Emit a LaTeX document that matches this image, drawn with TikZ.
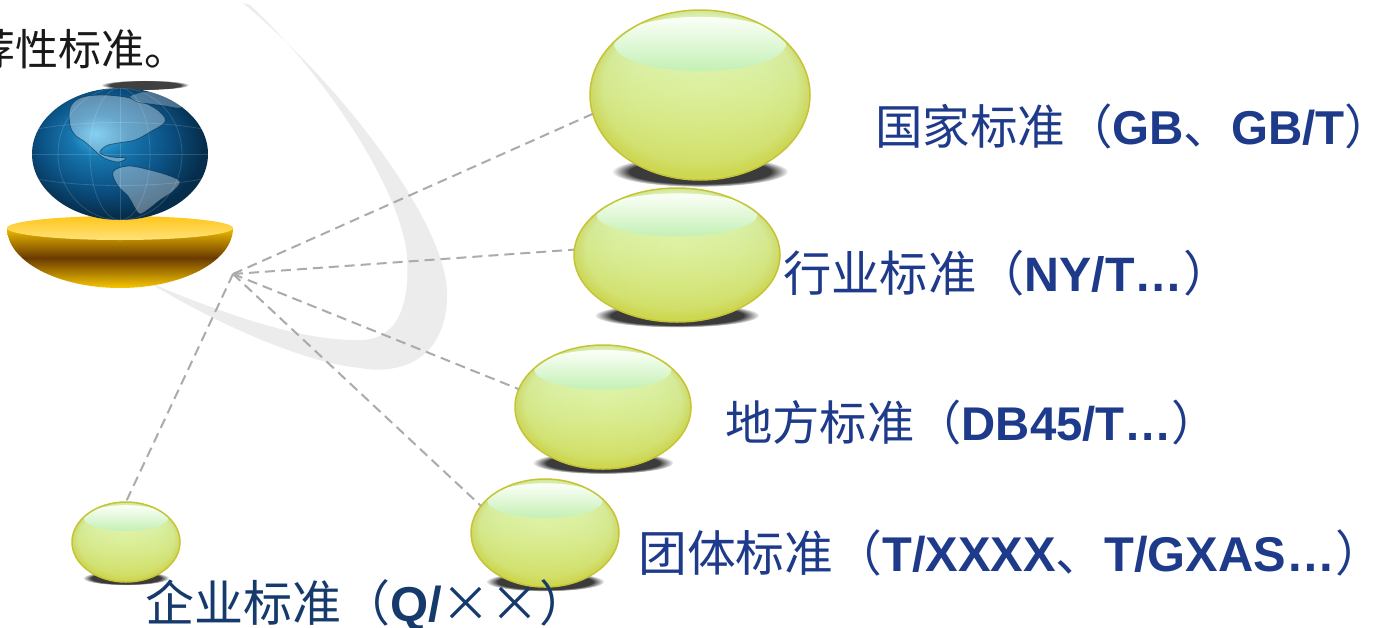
\documentclass[tikz,border=0pt]{standalone}
\usepackage{fontspec}
\setmainfont{Liberation Sans}
\newfontfamily\cjk{Noto Sans CJK SC}
\usetikzlibrary{fadings,shapes.geometric}

\definecolor{lab}{HTML}{1E3A8A}
\definecolor{labdark}{HTML}{163A6C}
\definecolor{dashc}{HTML}{ABABAB}
\definecolor{swc}{HTML}{ECECEC}
\definecolor{bc0}{HTML}{E4FDCE}
\definecolor{bc1}{HTML}{DEF8C2}
\definecolor{bc2}{HTML}{D8F0B0}
\definecolor{bc3}{HTML}{CDDA78}
\definecolor{byel}{HTML}{CED63E}
\definecolor{brim}{HTML}{C6C434}
\definecolor{hlw}{HTML}{FBFFF8}
\definecolor{hlg}{HTML}{C4F0B4}
\definecolor{g0}{HTML}{45B8EA}
\definecolor{g1}{HTML}{1778B0}
\definecolor{g2}{HTML}{0B5285}
\definecolor{g3}{HTML}{062E4C}
\definecolor{bowlY}{HTML}{EEBE00}
\definecolor{bowlD}{HTML}{6A3A00}
\definecolor{bowlY2}{HTML}{F7C800}
\definecolor{topA}{HTML}{FFC61A}
\definecolor{topB}{HTML}{FFE27A}

\pgfdeclareradialshading{bubsh}{\pgfpoint{0bp}{3bp}}{color(0bp)=(bc0); color(15bp)=(bc1); color(22bp)=(bc2); color(25bp)=(bc3); color(50bp)=(bc3)}
\pgfdeclareradialshading{globesh}{\pgfpoint{-7bp}{8bp}}{color(0bp)=(g0); color(8bp)=(g1); color(18bp)=(g2); color(27bp)=(g3); color(50bp)=(g3)}
\tikzfading[name=botfade, top color=transparent!100, middle color=transparent!97, bottom color=transparent!30]

\newcommand\cj[1]{{\cjk #1}}
\newcommand\latn[1]{{\bfseries #1}}

\tikzset{
  bub/.style={ellipse, inner sep=0pt, shading=bubsh},
  conn/.style={draw=dashc, line width=2pt, dash pattern=on 10pt off 6pt},
  lbl/.style={anchor=west, inner sep=0pt, text=lab},
  fuzzy/.style={path fading=circle with fuzzy edge 20 percent}
}

\newcommand\bubble[5]{%
  \fill[black!85, fuzzy, opacity=.9] (#2,{-#3-0.9*#5}) ellipse [x radius={0.8*#4}, y radius={0.18*#5}];
  \node[bub, minimum width={2*#4*1pt}, minimum height={2*#5*1pt}] (#1) at (#2,-#3) {};
  \fill[byel, path fading=botfade] (#2,-#3) ellipse [x radius=#4, y radius=#5];
  \shade[top color=hlw, bottom color=hlg] (#2,{-#3+0.6*#5}) ellipse [x radius={0.78*#4}, y radius={0.32*#5}];
  \draw[brim, line width=1.5pt] (#2,-#3) ellipse [x radius=#4, y radius=#5];
}

\begin{document}
\begin{tikzpicture}[x=1pt,y=1pt]
\useasboundingbox (0,0) rectangle (1375,-627);
\clip (0,0) rectangle (1375,-627);
\fill[white] (0,0) rectangle (1375,-627);

% swoosh
\fill[swc] (243,-3) .. controls (345,-88) and (452,-230) .. (447,-300)
  .. controls (444,-360) and (400,-375) .. (360,-368)
  .. controls (300,-362) and (210,-320) .. (150,-283)
  .. controls (220,-312) and (300,-342) .. (363,-340)
  .. controls (400,-338) and (410,-300) .. (407,-255)
  .. controls (400,-190) and (330,-80) .. (250,-5) -- cycle;

% top text
\node[anchor=east, inner sep=0pt, font=\cjk\fontsize{43}{46}\selectfont, text=black!90] (tt) at (188,-49) {推荐性标准。};

% bowl
\shade[top color=bowlY, bottom color=bowlY2, middle color=bowlD] (7,-228) arc[start angle=180, end angle=360, x radius=113, y radius=60] -- cycle;
\shade[top color=topA, bottom color=topB] (120,-228) ellipse [x radius=113, y radius=12];

% globe shadow
\fill[black!75, fuzzy] (145,-85) ellipse [x radius=44, y radius=5];

% globe
\begin{scope}
\shade[shading=globesh] (120,-154) ellipse [x radius=88, y radius=66];
\clip (120,-154) ellipse [x radius=88, y radius=66];
\begin{scope}[draw=white, opacity=.15, line width=0.8pt]
\draw (120,-154) ellipse [x radius=30, y radius=66];
\draw (120,-154) ellipse [x radius=62, y radius=66];
\draw (120,-88) -- (120,-220);
\draw (32,-130) .. controls (80,-120) and (160,-120) .. (208,-130);
\draw (32,-154) -- (208,-154);
\draw (32,-178) .. controls (80,-188) and (160,-188) .. (208,-178);
\end{scope}
\fill[white, opacity=.35, draw=g3, draw opacity=.6, line width=.8pt] plot[smooth cycle, tension=.6] coordinates {(70,-108) (80,-98) (100,-95) (125,-97) (145,-103) (160,-112) (165,-122) (150,-132) (135,-140) (118,-143) (106,-146) (100,-153) (112,-157) (126,-158) (118,-162) (104,-158) (94,-150) (85,-142) (75,-135) (70,-125)};
\fill[white, opacity=.35, draw=g3, draw opacity=.6, line width=.8pt] plot[smooth cycle, tension=.6] coordinates {(113,-172) (128,-166) (150,-170) (170,-176) (180,-182) (172,-192) (160,-200) (150,-208) (140,-214) (135,-208) (128,-196) (118,-186)};
\fill[white, opacity=.28, draw=g3, draw opacity=.6, line width=.8pt] plot[smooth cycle, tension=.6] coordinates {(130,-96) (150,-91) (172,-94) (190,-102) (180,-108) (165,-106) (150,-104) (138,-102)};
\end{scope}

% bubbles
\bubble{b1}{700}{95}{110}{85}
\bubble{b2}{677}{255}{103}{67}
\bubble{b3}{603}{407}{88}{62}
\bubble{b4}{545}{533}{74}{54}
\bubble{b5}{126}{542}{54}{40}

% connectors
\coordinate (hub) at (233,-274);
\draw[conn] (hub) -- (b1.190);
\draw[conn] (hub) -- (b2.177);
\draw[conn] (hub) -- (b3.168);
\draw[conn] (hub) -- (b4.157);
\draw[conn] (hub) -- (b5.north);

% labels
\node[lbl, font=\fontsize{47.5}{52}\selectfont] (l1) at (875,-126) {\cj{国家标准（}\latn{GB}\cj{、}\latn{GB/T}\cj{）}\hspace*{-0.5em}};
\node[lbl, font=\fontsize{48.3}{52}\selectfont] (l2) at (783,-273) {\cj{行业标准（}\latn{NY/T…}\cj{）}};
\node[lbl, font=\fontsize{47.3}{52}\selectfont] (l3) at (725,-423) {\cj{地方标准（}\latn{DB45/T…}\cj{）}};
\node[lbl, font=\fontsize{48.8}{52}\selectfont] (l4) at (638,-553) {\cj{团体标准（}\latn{T/XXXX}\cj{、}\latn{T/GXAS…}\cj{）}\hspace*{-0.5em}};
\node[lbl, text=labdark, font=\fontsize{49}{52}\selectfont] (l5) at (145,-605) {\cj{企业标准（}\latn{Q/}\cj{××）}};
\end{tikzpicture}
\end{document}
